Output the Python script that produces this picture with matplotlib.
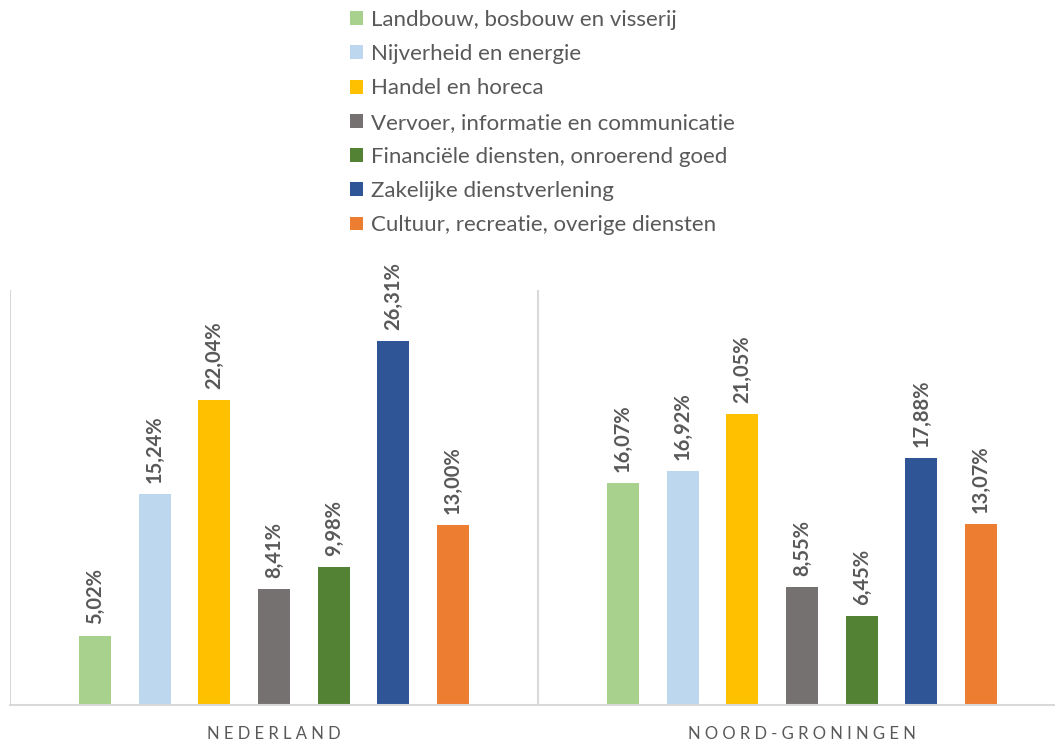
import matplotlib
matplotlib.use("Agg")
import matplotlib.pyplot as plt
from matplotlib.patches import Patch
import numpy as np

categories = ["NEDERLAND", "NOORD-GRONINGEN"]
sectors = [
    "Landbouw, bosbouw en visserij",
    "Nijverheid en energie",
    "Handel en horeca",
    "Vervoer, informatie en communicatie",
    "Financiële diensten, onroerend goed",
    "Zakelijke dienstverlening",
    "Cultuur, recreatie, overige diensten",
]
nederland = [5.02, 15.24, 22.04, 8.41, 9.98, 26.31, 13.00]
noord_groningen = [16.07, 16.92, 21.05, 8.55, 6.45, 17.88, 13.07]
colors = ["#A9D18E", "#BDD7EE", "#FFC000", "#767171", "#548235", "#2F5597", "#ED7D31"]

plt.rcParams['font.family'] = ['Lato', 'DejaVu Sans']
text_color = "#595959"

W, H = 1055, 742
fig = plt.figure(figsize=(W / 100, H / 100), dpi=100)
ax = fig.add_axes([10 / W, 37 / H, 1056 / W, 415 / H])

series = np.array([nederland, noord_groningen]).T
n = len(sectors)
step = 0.113
width = 0.0606
x = np.arange(len(categories))
for i in range(n):
    pos = x + (i - (n - 1) / 2) * step
    bars = ax.bar(pos, series[i], width=width, color=colors[i], label=sectors[i], zorder=3)
    for b, v in zip(bars, series[i]):
        ax.annotate(f"{v:.2f}%".replace(".", ","),
                    (b.get_x() + b.get_width() / 2, b.get_height()),
                    xytext=(0, 8), textcoords="offset points",
                    rotation=90, ha="center", va="bottom",
                    fontsize=14.5, fontweight="bold", color=text_color)

ax.set_xlim(-0.5, 1.5)
ax.set_ylim(0, 30)
for s in ["top", "right", "left", "bottom"]:
    ax.spines[s].set_visible(False)
ax.axhline(0, color="#d9d9d9", lw=1.5, zorder=4, clip_on=False)
for xv in [-0.5, 0.5, 1.5]:
    ax.axvline(xv, color="#d9d9d9", lw=1.5, zorder=2)
ax.set_yticks([])
ax.set_xticks(x)
ax.set_xticklabels([" ".join(c) for c in categories], fontsize=12, color=text_color)
ax.tick_params(axis="x", length=0, pad=15)

handles = [Patch(facecolor=c) for c in colors]
fig.legend(handles, sectors, loc="upper left", bbox_to_anchor=(350 / W, 1 - 10 / H),
           frameon=False, fontsize=16, labelcolor=text_color,
           handlelength=0.59, handleheight=0.59, handletextpad=0.35,
           labelspacing=0.64, borderpad=0, borderaxespad=0)

fig.savefig("out.png", dpi=100)
